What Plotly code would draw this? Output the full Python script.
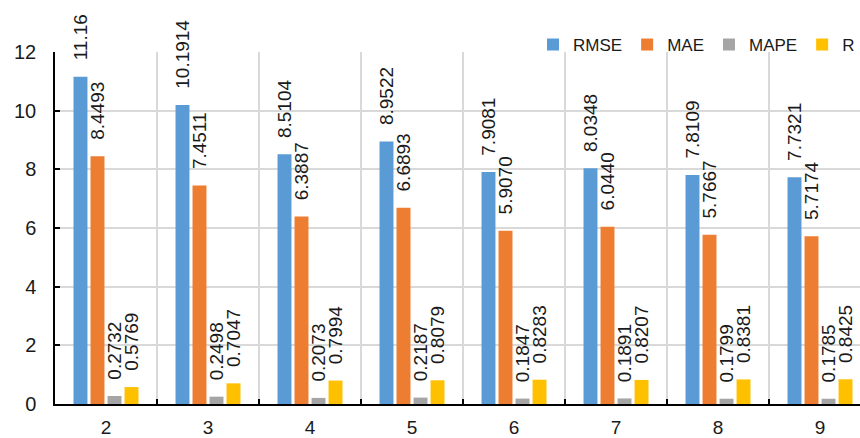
import plotly.graph_objects as go

categories = ["2", "3", "4", "5", "6", "7", "8", "9"]
rmse = ["11.16", "10.1914", "8.5104", "8.9522", "7.9081", "8.0348", "7.8109", "7.7321"]
mae = ["8.4493", "7.4511", "6.3887", "6.6893", "5.9070", "6.0440", "5.7667", "5.7174"]
mape = ["0.2732", "0.2498", "0.2073", "0.2187", "0.1847", "0.1891", "0.1799", "0.1785"]
r_vals = ["0.5769", "0.7047", "0.7994", "0.8079", "0.8283", "0.8207", "0.8381", "0.8425"]
y_ticks = [0, 2, 4, 6, 8, 10, 12]

series = [("RMSE", rmse, "#5B9BD5"), ("MAE", mae, "#ED7D31"),
          ("MAPE", mape, "#A5A5A5"), ("R", r_vals, "#FFC000")]

FONT = "Liberation Sans, Arial, sans-serif"
fig = go.Figure()
for name, vals, color in series:
    fig.add_trace(go.Bar(
        name=name, x=categories, y=[float(v) for v in vals],
        text=["\u2002\u2009" + v for v in vals], textposition="outside", textangle=-90,
        constraintext="none", cliponaxis=False,
        textfont=dict(family=FONT, size=19, color="#1a1a1a"),
        marker=dict(color=color, line=dict(width=0)),
    ))

fig.update_layout(
    width=860, height=438,
    margin=dict(l=55, r=0, t=52, b=34),
    paper_bgcolor="white", plot_bgcolor="white",
    barmode="group", bargap=0.333, bargroupgap=0.18,
    font=dict(family=FONT, size=18, color="#1a1a1a"),
    showlegend=True,
    legend=dict(orientation="h", x=1.0, xanchor="right", y=1.02, yanchor="middle",
                font=dict(family=FONT, size=17, color="#1a1a1a"),
                bgcolor="rgba(0,0,0,0)", traceorder="normal"),
    xaxis=dict(type="category", range=[-0.5, 7.392], tickson="boundaries",
               automargin=False,
               showgrid=True, gridcolor="#D9D9D9", gridwidth=1.5,
               showline=True, linecolor="black", linewidth=2,
               ticks="inside", ticklen=5, tickcolor="black", tickwidth=1.5,
               ticklabelstandoff=5,
               tickfont=dict(family=FONT, size=19, color="#1a1a1a")),
    yaxis=dict(range=[0, 12], tickvals=y_ticks, automargin=False,
               showgrid=True, gridcolor="#D9D9D9", gridwidth=1.5,
               showline=True, linecolor="black", linewidth=1.5,
               ticks="inside", ticklen=5, tickcolor="black", tickwidth=1.5,
               ticklabelstandoff=13, zeroline=False,
               tickfont=dict(family=FONT, size=20, color="#1a1a1a")),
)

fig.write_html("out.html", config={"displayModeBar": False},
               post_script="document.body.style.margin='0px';")
